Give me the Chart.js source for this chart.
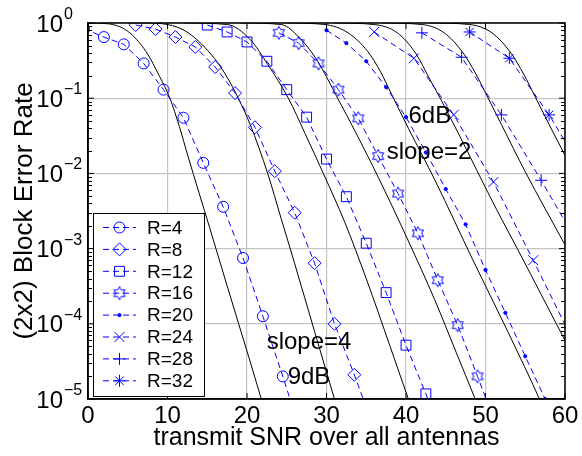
<!DOCTYPE html>
<html>
<head>
<meta charset="utf-8">
<script src="https://cdn.jsdelivr.net/npm/chart.js@4"></script>
<style>
  body { margin: 0; background: #fff; }
  canvas { display: block; }
</style>
</head>
<body>
<canvas id="chart" width="582" height="456"></canvas>
<script>
const FONT = "'Liberation Sans', Arial, sans-serif";
const BLUE = '#0000ff';
const GRID = '#c4c4c4';

// simulated block error rate (blue dashed lines with markers)
const snrR4 = [-0.5, 2, 4.5, 7, 9.5, 12, 14.5, 17, 19.5, 22, 24.5, 27];
const blerR4 = [0.84, 0.65, 0.52, 0.29, 0.13, 0.055, 0.0138, 0.0036, 7.5e-4, 1.26e-4, 2.0e-5, 3e-6];
const snrR8 = [6, 8.5, 11, 13.5, 16, 18.5, 21, 23.5, 26, 28.5, 31, 33.5, 36];
const blerR8 = [0.94, 0.83, 0.65, 0.48, 0.26, 0.117, 0.041, 0.0107, 0.003, 6.4e-4, 1.0e-4, 2.1e-5, 4e-6];
const snrR12 = [15, 17.5, 20, 22.5, 25, 27.5, 30, 32.5, 35, 37.5, 40, 42.5, 45];
const blerR12 = [0.94, 0.76, 0.56, 0.31, 0.13, 0.056, 0.0155, 0.0049, 1.18e-3, 2.6e-4, 5.2e-5, 1.17e-5, 2.5e-6];
const snrR16 = [24, 26.5, 29, 31.5, 34, 36.5, 39, 41.5, 44, 46.5, 49, 51.5];
const blerR16 = [0.74, 0.54, 0.29, 0.13, 0.054, 0.017, 0.0054, 1.6e-3, 3.8e-4, 9.6e-5, 2.0e-5, 4e-6];
const snrR20 = [30, 32.5, 35, 37.5, 40, 42.5, 45, 47.5, 50, 52.5, 55, 57.5];
const blerR20 = [0.8, 0.54, 0.31, 0.14, 0.056, 0.019, 0.0062, 0.0021, 5.2e-4, 1.4e-4, 3.7e-5, 1.0e-5];
const snrR24 = [36, 41, 46, 51, 56, 61];
const blerR24 = [0.76, 0.34, 0.06, 0.0077, 7e-4, 6e-5];
const snrR28 = [42, 47, 52, 57, 62];
const blerR28 = [0.74, 0.35, 0.06, 0.0081, 1e-3];
const snrR32 = [48, 53, 58, 63];
const blerR32 = [0.76, 0.34, 0.06, 0.008];

// outage bounds (black solid lines)
const outSnr4 = [0, 2.5, 5, 7.3, 9, 10.3, 11.5, 12.6, 15.3, 17.6, 20.3, 21.8, 23];
const outR4 = [1, 0.977, 0.776, 0.417, 0.195, 0.1, 0.0417, 0.0166, 1.9e-3, 2.95e-4, 3.4e-5, 1e-5, 3.8e-6];
const outSnr8 = [5, 7, 10, 12.6, 15.9, 17.5, 18.9, 20.4, 22.6, 24.3, 26, 28.5, 31, 32];
const outR8 = [1, 1, 0.955, 0.741, 0.339, 0.19, 0.1, 0.0447, 0.01, 2.5e-3, 6.3e-4, 7.9e-5, 1e-5, 4.4e-6];
const outSnr12 = [12, 17.5, 20.4, 22.6, 25.2, 27.3, 29.6, 32.3, 35, 38, 40.3, 41.5];
const outR12 = [1, 0.955, 0.603, 0.282, 0.1, 0.0339, 0.01, 2.24e-3, 3.98e-4, 5e-5, 1e-5, 4.4e-6];
const outSnr16 = [19, 24.3, 26.8, 28.9, 31.4, 33.6, 36.6, 40.3, 43.6, 46.3, 48.7, 50];
const outR16 = [1, 0.955, 0.603, 0.309, 0.1, 0.0363, 8.5e-3, 1.26e-3, 2.1e-4, 4.2e-5, 1e-5, 4.5e-6];
const outSnr20 = [25, 29.8, 32.7, 35.2, 36.8, 38.2, 40.3, 43.7, 48.4, 52.8, 57, 58];
const outR20 = [1, 0.955, 0.741, 0.417, 0.224, 0.112, 0.0398, 7.9e-3, 7.1e-4, 7.9e-5, 8.9e-6, 5e-6];
const outSnr24 = [31, 36, 38.9, 41.2, 43, 44.3, 46.5, 49, 51.4, 54, 60];
const outR24 = [1, 0.955, 0.741, 0.398, 0.178, 0.1, 0.0355, 0.0105, 3.3e-3, 1e-3, 6e-5];
const outSnr28 = [37, 42, 44.8, 47.2, 48.8, 50.2, 52, 55, 60];
const outR28 = [1, 0.955, 0.741, 0.398, 0.209, 0.107, 0.0447, 0.0105, 1.12e-3];
const outSnr32 = [43, 48, 50.8, 53.2, 54.8, 56.2, 58, 60];
const outR32 = [1, 0.955, 0.741, 0.398, 0.209, 0.107, 0.0447, 0.0174];

const xTicks = [0, 10, 20, 30, 40, 50, 60];
const yTicks = [1, 1e-1, 1e-2, 1e-3, 1e-4, 1e-5];
const yTickExp = ['0', '\u22121', '\u22122', '\u22123', '\u22124', '\u22125'];

const notes = [
  { text: '6dB', x: 43, y: 0.058 },
  { text: 'slope=2', x: 42.9, y: 0.0193 },
  { text: 'slope=4', x: 27.8, y: 5.7e-5 },
  { text: '9dB', x: 27.8, y: 1.95e-5 },
];

// MATLAB-like hexagram marker (six-point star outline)
function hexagram(r) {
  const c = document.createElement('canvas');
  c.width = c.height = 18;
  const g = c.getContext('2d');
  g.strokeStyle = BLUE;
  g.lineWidth = 1;
  g.beginPath();
  for (let i = 0; i < 12; i++) {
    const a = -Math.PI / 2 + i * Math.PI / 6;
    const rr = i % 2 ? r / Math.sqrt(3) : r;
    const px = 9 + rr * Math.cos(a), py = 9 + rr * Math.sin(a);
    if (i) g.lineTo(px, py); else g.moveTo(px, py);
  }
  g.closePath();
  g.stroke();
  return c;
}

const sims = [
  { label: 'R=4', x: snrR4, y: blerR4, style: 'circle', r: 5.5 },
  { label: 'R=8', x: snrR8, y: blerR8, style: 'rectRot', r: 6.5 },
  { label: 'R=12', x: snrR12, y: blerR12, style: 'rect', r: 7 },
  { label: 'R=16', x: snrR16, y: blerR16, style: hexagram(6.5), r: 6 },
  { label: 'R=20', x: snrR20, y: blerR20, style: 'circle', r: 1.6, filled: true },
  { label: 'R=24', x: snrR24, y: blerR24, style: 'crossRot', r: 7 },
  { label: 'R=28', x: snrR28, y: blerR28, style: 'cross', r: 6 },
  { label: 'R=32', x: snrR32, y: blerR32, style: 'star', r: 6 },
];
const bounds = [
  [outSnr4, outR4], [outSnr8, outR8], [outSnr12, outR12], [outSnr16, outR16],
  [outSnr20, outR20], [outSnr24, outR24], [outSnr28, outR28], [outSnr32, outR32],
];

const datasets = [];
sims.forEach(s => {
  datasets.push({
    label: s.label,
    data: s.x.map((x, i) => ({ x, y: s.y[i] })),
    borderColor: BLUE,
    borderWidth: 1,
    borderDash: [6, 4],
    tension: 0,
    pointStyle: s.style,
    pointRadius: s.r,
    pointBorderColor: BLUE,
    pointBackgroundColor: s.filled ? BLUE : 'rgba(0,0,0,0)',
    pointBorderWidth: 1,
  });
});
bounds.forEach(([xs, ys]) => {
  datasets.push({
    data: xs.map((x, i) => ({ x, y: ys[i] })),
    borderColor: '#000',
    borderWidth: 1,
    pointRadius: 0,
    cubicInterpolationMode: 'monotone',
  });
});

const extras = {
  id: 'extras',
  afterDraw(chart) {
    const { ctx, chartArea: a } = chart;
    const xs = chart.scales.x, ys = chart.scales.y;
    ctx.save();

    // inward ticks on the log axis (both sides)
    ctx.strokeStyle = '#000';
    ctx.lineWidth = 1;
    ctx.beginPath();
    for (let k = -5; k < 0; k++) {
      for (let m = 2; m <= 9; m++) {
        const py = Math.round(ys.getPixelForValue(m * Math.pow(10, k))) + 0.5;
        ctx.moveTo(a.left, py); ctx.lineTo(a.left + 4, py);
        ctx.moveTo(a.right, py); ctx.lineTo(a.right - 4, py);
      }
    }
    yTicks.forEach(v => {
      const py = ys.getPixelForValue(v);
      ctx.moveTo(a.left, py); ctx.lineTo(a.left + 6, py);
      ctx.moveTo(a.right, py); ctx.lineTo(a.right - 6, py);
    });
    xTicks.forEach(v => {
      const px = xs.getPixelForValue(v);
      ctx.moveTo(px, a.bottom); ctx.lineTo(px, a.bottom - 6);
      ctx.moveTo(px, a.top); ctx.lineTo(px, a.top + 6);
    });
    ctx.stroke();

    // box
    ctx.lineWidth = 1.5;
    ctx.strokeRect(a.left, a.top, a.right - a.left, a.bottom - a.top);

    // y tick labels 10^k
    ctx.fillStyle = '#000';
    yTicks.forEach((v, i) => {
      const py = ys.getPixelForValue(v);
      ctx.font = `24px ${FONT}`;
      ctx.textAlign = 'right';
      ctx.textBaseline = 'alphabetic';
      ctx.fillText('10', a.left - 25, py + 8.5);
      ctx.font = `16px ${FONT}`;
      ctx.textAlign = 'left';
      ctx.fillText(yTickExp[i], a.left - 24, py - 4);
    });

    // annotations
    ctx.font = `24px ${FONT}`;
    ctx.textAlign = 'center';
    ctx.textBaseline = 'middle';
    notes.forEach(n => ctx.fillText(n.text, xs.getPixelForValue(n.x), ys.getPixelForValue(n.y)));

    // legend
    const lx = a.left + 5, ly = a.top + 190, lw = 111, lh = 183;
    ctx.fillStyle = '#fff';
    ctx.fillRect(lx, ly, lw, lh);
    ctx.strokeStyle = '#000';
    ctx.lineWidth = 1;
    ctx.strokeRect(lx + 0.5, ly + 0.5, lw, lh);
    sims.forEach((s, i) => {
      const ry = ly + 14.5 + i * 21.9;
      ctx.strokeStyle = BLUE;
      ctx.setLineDash([6, 4]);
      ctx.beginPath();
      ctx.moveTo(lx + 10, ry); ctx.lineTo(lx + 43, ry);
      ctx.stroke();
      ctx.setLineDash([]);
      ctx.fillStyle = s.filled ? BLUE : 'rgba(0,0,0,0)';
      Chart.helpers.drawPoint(ctx, { pointStyle: s.style, radius: s.r, rotation: 0, borderWidth: 1 }, lx + 26.5, ry);
      ctx.fillStyle = '#000';
      ctx.font = `19px ${FONT}`;
      ctx.textAlign = 'left';
      ctx.textBaseline = 'middle';
      ctx.fillText(s.label, lx + 54, ry + 1);
    });
    ctx.restore();
  },
};

new Chart(document.getElementById('chart'), {
  type: 'line',
  data: { datasets },
  options: {
    responsive: false,
    animation: false,
    layout: { padding: { top: 23, right: 17, left: 0, bottom: 0 } },
    plugins: { legend: { display: false }, tooltip: { enabled: false } },
    scales: {
      x: {
        type: 'linear',
        min: 0,
        max: 60,
        afterBuildTicks: s => { s.ticks = xTicks.map(v => ({ value: v })); },
        afterFit: s => { s.height = 57; },
        ticks: { font: { family: FONT, size: 24 }, color: '#000', padding: 3, maxRotation: 0, autoSkip: false },
        grid: { color: GRID, lineWidth: 1.2, drawTicks: false },
        border: { color: '#000', width: 1.5 },
        title: {
          display: true,
          text: 'transmit SNR over all antennas',
          font: { family: FONT, size: 25 },
          color: '#000',
          padding: { top: 0, bottom: 3 },
        },
      },
      y: {
        type: 'logarithmic',
        min: 1e-5,
        max: 1,
        afterBuildTicks: s => { s.ticks = yTicks.map(v => ({ value: v })); },
        afterFit: s => { s.width = 88; },
        ticks: { display: false },
        grid: { color: GRID, lineWidth: 1.2, drawTicks: false },
        border: { color: '#000', width: 1.5 },
        title: {
          display: true,
          text: '(2x2) Block Error Rate',
          font: { family: FONT, size: 26 },
          color: '#000',
          padding: { top: 9, bottom: 0 },
        },
      },
    },
  },
  plugins: [extras],
});
</script>
</body>
</html>
